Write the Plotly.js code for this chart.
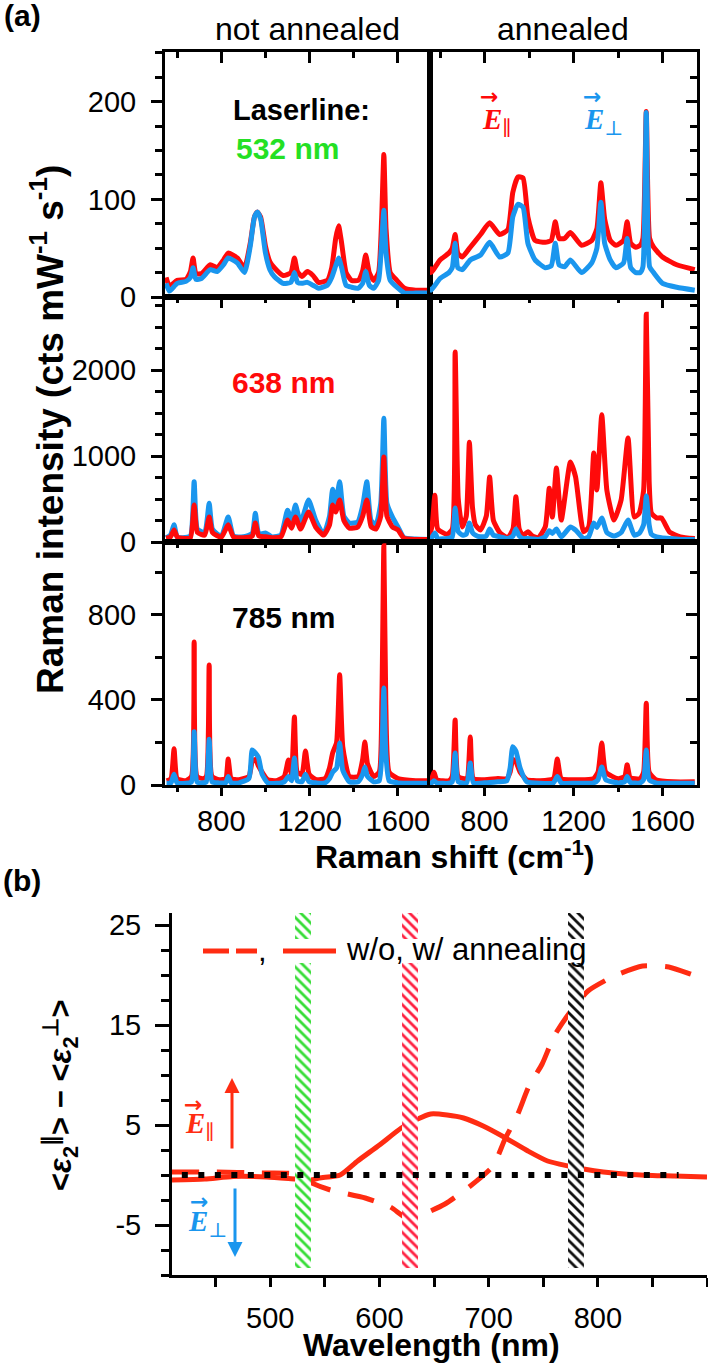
<!DOCTYPE html>
<html><head><meta charset="utf-8">
<script src="https://cdn.plot.ly/plotly-3.0.1.min.js"></script>
<style>html,body{margin:0;padding:0;background:#fff;}#chart{width:708px;height:1366px;}</style>
</head><body><div id="chart"></div>
<script>
// ---------- Panel (a): Raman spectra (Raman shift in cm-1, intensity in cts mW-1 s-1) ----------
// 532 nm, not annealed
const shift_532_na = [550,565,600,640,660,672,685,710,750,781,810,831,872,905,931,950,963,978,1000,1020,1040,1080,1115,1131,1145,1165,1190,1215,1240,1280,1300,1318,1331,1345,1365,1390,1420,1440,1454,1470,1490,1512,1526,1536,1546,1565,1595,1630,1680,1740];
const red_532_na   = [20,11,17,18,26,40,24,24,33,30,38,45,40,30,55,82,87,82,52,36,30,22,25,40,26,21,26,22,15,17,30,60,73,55,25,17,17,27,43,25,17,25,80,146,70,25,17,9,7,7];
const blue_532_na  = [14,6,14,16,20,30,18,19,28,26,33,40,35,25,52,82,87,80,45,28,21,14,15,25,15,14,15,12,9,12,20,32,40,30,12,10,9,14,26,12,9,17,55,89,45,17,10,4,4,4];
// 532 nm, annealed
const shift_532_a = [552,560,600,640,655,668,680,700,736,782,823,868,905,927,950,973,995,1027,1073,1100,1118,1135,1160,1186,1236,1282,1305,1323,1340,1365,1391,1425,1441,1457,1480,1500,1512,1527,1542,1560,1600,1664,1745];
const red_532_a   = [31,25,38,45,50,64,45,41,51,64,76,64,69,107,123,122,82,58,56,58,77,60,60,66,53,58,70,117,80,58,53,58,77,55,51,53,60,190,60,51,41,33,28];
const blue_532_a  = [10,7,19,25,30,55,30,28,38,43,56,41,45,82,95,92,55,38,30,32,55,33,31,38,25,35,50,97,55,38,30,35,60,30,25,25,31,189,31,25,14,10,7];
// 638 nm, not annealed
const shift_638_na = [550,570,586,600,625,660,677,692,725,745,760,800,831,855,900,940,954,970,1000,1030,1070,1100,1118,1136,1159,1195,1227,1263,1290,1304,1318,1336,1355,1380,1418,1440,1459,1478,1500,1522,1536,1550,1575,1600,1627,1680,1745];
const red_638_na   = [45,60,140,60,45,50,430,110,80,290,110,55,200,60,50,70,220,70,60,50,60,255,160,290,150,350,175,80,200,430,350,490,250,160,175,300,490,180,150,300,990,300,175,140,45,30,30];
const blue_638_na  = [50,80,200,60,50,70,700,150,110,450,150,65,290,70,60,100,335,90,105,60,80,370,255,430,220,490,255,90,300,615,450,700,300,220,235,420,700,250,200,450,1440,450,290,175,50,35,30];
// 638 nm, annealed
const shift_638_a = [552,565,577,590,632,655,668,682,700,718,732,746,759,782,808,823,840,870,905,928,941,956,973,995,1015,1041,1073,1091,1105,1123,1145,1186,1209,1245,1268,1291,1305,1327,1350,1382,1414,1445,1473,1495,1515,1527,1540,1550,1573,1595,1632,1680,1745];
const red_638_a   = [58,200,545,150,90,150,2210,500,175,300,1160,400,200,140,300,755,250,105,50,150,525,150,75,120,70,50,175,625,290,860,255,930,760,120,175,1035,605,1480,600,255,490,1210,290,335,600,2650,700,335,280,280,115,60,40];
const blue_638_a  = [30,60,105,40,40,60,395,120,80,90,220,110,80,60,70,150,80,60,40,70,150,70,40,40,35,30,60,130,100,150,60,175,140,40,60,220,170,280,110,70,110,255,80,100,200,535,200,90,60,50,40,30,30];
// 785 nm, not annealed
const shift_785_na = [552,572,586,600,640,665,677,690,715,732,745,758,790,820,831,845,880,925,940,955,968,985,1010,1050,1085,1104,1118,1131,1144,1165,1181,1198,1230,1270,1290,1304,1322,1336,1350,1380,1420,1440,1450,1462,1490,1515,1527,1536,1545,1560,1600,1680,1745];
const red_785_na   = [20,30,170,30,20,40,673,40,30,40,565,40,25,30,122,30,25,40,110,120,90,60,25,20,40,118,50,320,60,50,160,50,25,30,80,150,200,518,180,40,40,120,202,100,40,60,400,1125,380,60,30,20,20];
const blue_785_na  = [8,10,50,10,8,15,250,15,10,15,215,15,10,10,40,10,10,30,165,150,130,50,10,8,15,40,20,127,20,15,50,15,10,10,30,60,80,198,70,15,15,50,85,40,15,20,150,456,150,20,10,8,8];
// 785 nm, annealed
const shift_785_a = [552,563,573,585,640,655,668,682,720,736,750,800,860,900,915,927,941,960,990,1050,1110,1127,1145,1200,1290,1310,1327,1345,1400,1430,1441,1455,1500,1515,1527,1540,1570,1650,1745];
const red_785_a   = [20,30,60,25,20,40,306,40,30,226,30,25,30,30,60,120,110,60,25,20,30,122,30,25,30,60,198,60,30,40,95,35,30,60,385,60,25,15,15];
const blue_785_a  = [8,10,20,10,8,15,150,15,10,103,10,10,15,20,80,180,160,80,15,8,10,40,10,8,10,25,85,25,10,15,40,12,10,25,165,25,10,8,8];

// ---------- Panel (b): <eps2 par> - <eps2 perp> vs wavelength (nm) ----------
const wl_without  = [410,450,490,523,538,555,587,610,625,636,660,682,704,715,726,737,749,760,772,780,791,815,841,865,890,900];
const eps_without = [0.3,0.3,0.2,0.1,-0.8,-1.5,-2.3,-3.2,-4.3,-4.1,-2.9,-1.2,0.9,3.6,5.9,8.9,11.1,13.9,15.9,17.0,18.4,19.9,20.9,20.8,19.9,19.6];
const wl_with  = [410,440,466,497,523,537,545,564,580,600,620,635,647,662,677,695,714,736,754,773,787,805,824,850,870,900];
const eps_with = [-0.5,-0.4,-0.15,-0.2,-0.4,-0.5,-0.3,0,1.4,3.0,4.7,5.6,6.1,6.0,5.7,4.9,3.8,2.4,1.4,0.9,0.6,0.3,0.1,-0.05,-0.1,-0.2];
const wl_zero  = [419,874];
const eps_zero = [0,0];
const laserBands = [530,628,780];
const bandColors = ['#35dd35','#ff2040','#111111'];
const epsTickVals = [-5,5,15,25];
const epsTickText = ['-5','5','15','25'];

// ---------- Layout helpers ----------
const W = 708, H = 1366;
const PX = p => p / W, PY = p => 1 - p / H;
const FONT = 'Liberation Sans, Arial, Helvetica, sans-serif';
const SERIF = 'Liberation Serif, Times New Roman, DejaVu Serif, serif';
const RED = '#ff0a0a', BLUE = '#1a96ee', RED_B = '#ff2c12';
const tickFont = {family: FONT, size: 29, color: '#000'};

const colL = [PX(165), PX(430)], colR = [PX(430), PX(697)];
const rows = [[PY(297), PY(52)], [PY(542), PY(297)], [PY(785), PY(542)]];
const xRangeL = [545, 1745], xRangeR = [555, 1755];
const yRanges = [[0, 251], [0, 2850], [0, 1143]];
const yDt = [[100, 25], [1000, 250], [400, 200]];

function spec(x, y, color, xa, ya) {
  return {type: 'scatter', mode: 'lines', x: x, y: y, xaxis: xa, yaxis: ya,
    line: {color: color, width: 5, shape: 'spline', smoothing: 0.5},
    showlegend: false, hoverinfo: 'skip'};
}
function xAx(domain, anchor, range) {
  return {domain: domain, anchor: anchor, range: range, side: 'top', ticks: 'inside',
    ticklen: 11, tickwidth: 3, tickcolor: '#000', dtick: 400, tick0: 0,
    minor: {dtick: 200, tick0: 0, ticks: 'inside', ticklen: 6, tickwidth: 3, tickcolor: '#000', showgrid: false},
    showticklabels: false, showline: true, linewidth: 3, linecolor: '#000', mirror: true,
    showgrid: false, zeroline: false, fixedrange: true};
}
function xBot(over, anchor, range) {
  return {overlaying: over, anchor: anchor, range: range, side: 'bottom', ticks: 'outside',
    ticklen: 10, tickwidth: 3, tickcolor: '#000', dtick: 400, tick0: 0,
    minor: {dtick: 200, tick0: 0, ticks: 'outside', ticklen: 6, tickwidth: 3, tickcolor: '#000', showgrid: false},
    showticklabels: true, tickfont: tickFont, ticklabelstandoff: 0,
    showline: false, showgrid: false, zeroline: false, fixedrange: true};
}
function yAx(anchor, r, left) {
  return {domain: rows[r], anchor: anchor, range: yRanges[r], side: left ? 'left' : 'right',
    ticks: left ? 'outside' : 'inside', ticklen: 11, tickwidth: 3, tickcolor: '#000',
    dtick: yDt[r][0], tick0: 0,
    minor: {dtick: yDt[r][1], tick0: 0, ticks: left ? 'outside' : 'inside', ticklen: 7, tickwidth: 3, tickcolor: '#000', showgrid: false},
    showticklabels: left, tickfont: tickFont, ticklabelstandoff: 9,
    showline: true, linewidth: 3, linecolor: '#000', mirror: true,
    showgrid: false, zeroline: false, fixedrange: true};
}

const traces = [
  spec(shift_532_na, red_532_na, RED, 'x', 'y'),
  spec(shift_532_na, blue_532_na, BLUE, 'x', 'y'),
  spec(shift_532_a, red_532_a, RED, 'x2', 'y2'),
  spec(shift_532_a, blue_532_a, BLUE, 'x2', 'y2'),
  spec(shift_638_na, blue_638_na, BLUE, 'x3', 'y3'),
  spec(shift_638_na, red_638_na, RED, 'x3', 'y3'),
  spec(shift_638_a, red_638_a, RED, 'x4', 'y4'),
  spec(shift_638_a, blue_638_a, BLUE, 'x4', 'y4'),
  spec(shift_785_na, red_785_na, RED, 'x5', 'y5'),
  spec(shift_785_na, blue_785_na, BLUE, 'x5', 'y5'),
  spec(shift_785_a, red_785_a, RED, 'x6', 'y6'),
  spec(shift_785_a, blue_785_a, BLUE, 'x6', 'y6'),
  {type: 'scatter', x: [], y: [], xaxis: 'x8', yaxis: 'y5', showlegend: false},
  {type: 'scatter', x: [], y: [], xaxis: 'x9', yaxis: 'y6', showlegend: false}
];

// panel (b) curves
const bRange = [-10, 26.2];
traces.push({type: 'scatter', mode: 'lines', x: wl_without, y: eps_without, xaxis: 'x7', yaxis: 'y7',
  line: {color: RED_B, width: 5, dash: '27px,18px', shape: 'spline', smoothing: 0.6}, showlegend: false, hoverinfo: 'skip'});
traces.push({type: 'scatter', mode: 'lines', x: wl_with, y: eps_with, xaxis: 'x7', yaxis: 'y7',
  line: {color: RED_B, width: 5, shape: 'spline', smoothing: 0.6}, showlegend: false, hoverinfo: 'skip'});
// hatched laser bands
const halfW = 7.3;
laserBands.forEach((c, i) => {
  traces.push({type: 'scatter', mode: 'lines', xaxis: 'x7', yaxis: 'y7',
    x: [c - halfW, c + halfW, c + halfW, c - halfW, c - halfW],
    y: [bRange[0] + 0.7, bRange[0] + 0.7, bRange[1], bRange[1], bRange[0] + 0.7],
    fill: 'toself', fillcolor: 'white', line: {width: 0, color: 'rgba(0,0,0,0)'},
    fillpattern: {shape: '\\', fgcolor: bandColors[i], bgcolor: 'white', size: 7, solidity: 0.4},
    showlegend: false, hoverinfo: 'skip'});
});
traces.push({type: 'scatter', mode: 'lines', x: wl_zero, y: eps_zero, xaxis: 'x7', yaxis: 'y7',
  line: {color: '#000', width: 6, dash: '6px,10.5px'}, showlegend: false, hoverinfo: 'skip'});

function ann(text, px, py, size, color, opts) {
  return Object.assign({xref: 'paper', yref: 'paper', x: PX(px), y: PY(py), text: text,
    showarrow: false, xanchor: 'center', yanchor: 'middle',
    font: {family: FONT, size: size, color: color || '#000'}}, opts || {});
}
const bold = (s, px, py, size, color, opts) => {
  const a = ann(s, px, py, size, color, opts); a.font.weight = 'bold'; return a;
};
const eLabel = (sub, px, py, color) => ann('<b><i>E</i></b><sub>' + sub + '</sub>', px, py, 29, color,
  {font: {family: SERIF, size: 29, color: color}});
const eArrow = (px, py, color) => ann('→', px, py, 22, color, {font: {family: 'DejaVu Sans, sans-serif', size: 22, color: color, weight: 'bold'}});

const annotations = [
  bold('(a)', 22, 15, 30),
  bold('(b)', 22, 880, 30),
  ann('not annealed', 307, 29, 32),
  ann('annealed', 563, 29, 32),
  bold('Laserline:', 231, 110, 29, '#000', {xanchor: 'left'}),
  bold('532 nm', 287, 148, 30, '#24e024'),
  bold('638 nm', 283, 382, 30, '#ff0a0a'),
  bold('785 nm', 283, 617, 30, '#000'),
  eLabel('∥', 497, 121, RED), eArrow(489, 97, RED),
  eLabel('⊥', 603, 121, BLUE), eArrow(592, 97, BLUE),
  bold('Raman intensity (cts mW<sup>-1</sup> s<sup>-1</sup>)', 47, 430, 37, '#000', {textangle: -90}),
  bold('Raman shift (cm<sup>-1</sup>)', 455, 855, 32),
  bold('&lt;<i>ε</i><sub>2</sub><sup>∥</sup>&gt; − &lt;<i>ε</i><sub>2</sub><sup>⊥</sup>&gt;', 60, 1095, 31, '#000', {textangle: -90}),
  bold('Wavelength (nm)', 431, 1345, 32),
  eLabel('∥', 200, 1125, RED_B), eArrow(193, 1104, RED_B),
  eLabel('⊥', 207, 1223, BLUE), eArrow(199, 1201, BLUE),
  ann('', 232, 1078, 10, RED_B, {showarrow: true, ax: 0, ay: 72, arrowhead: 2, arrowsize: 1, arrowwidth: 3, arrowcolor: RED_B}),
  ann('', 235, 1257, 10, BLUE, {showarrow: true, ax: 0, ay: -70, arrowhead: 2, arrowsize: 1, arrowwidth: 3, arrowcolor: BLUE}),
  ann(',', 262, 951, 31),
  ann('w/o, w/ annealing', 344, 949, 31, '#000', {xanchor: 'left'})
];

const shapes = [
  {type: 'rect', xref: 'paper', yref: 'paper', x0: PX(198), x1: PX(606), y0: PY(963), y1: PY(939),
   fillcolor: 'white', line: {width: 0}, layer: 'above'},
  {type: 'line', xref: 'paper', yref: 'paper', x0: PX(203), x1: PX(229), y0: PY(951), y1: PY(951), line: {color: RED_B, width: 5}, layer: 'above'},
  {type: 'line', xref: 'paper', yref: 'paper', x0: PX(236), x1: PX(257), y0: PY(951), y1: PY(951), line: {color: RED_B, width: 5}, layer: 'above'},
  {type: 'line', xref: 'paper', yref: 'paper', x0: PX(283), x1: PX(336), y0: PY(951), y1: PY(951), line: {color: RED_B, width: 5}, layer: 'above'}
];

const layout = {
  width: W, height: H, margin: {l: 0, r: 0, t: 0, b: 0},
  paper_bgcolor: '#fff', plot_bgcolor: '#fff', showlegend: false,
  font: {family: FONT, color: '#000'},
  xaxis: xAx(colL, 'y', xRangeL), xaxis2: xAx(colR, 'y2', xRangeR),
  xaxis3: xAx(colL, 'y3', xRangeL), xaxis4: xAx(colR, 'y4', xRangeR),
  xaxis5: xAx(colL, 'y5', xRangeL), xaxis6: xAx(colR, 'y6', xRangeR),
  xaxis8: xBot('x5', 'y5', xRangeL), xaxis9: xBot('x6', 'y6', xRangeR),
  yaxis: yAx('x', 0, true), yaxis2: yAx('x2', 0, false),
  yaxis3: yAx('x3', 1, true), yaxis4: yAx('x4', 1, false),
  yaxis5: yAx('x5', 2, true), yaxis6: yAx('x6', 2, false),
  xaxis7: {domain: [PX(172), PX(707)], anchor: 'y7', range: [410, 900], side: 'bottom',
    ticks: 'outside', ticklen: 9, tickwidth: 3, tickcolor: '#000', dtick: 100, tick0: 0,
    minor: {dtick: 50, tick0: 0, ticks: 'outside', ticklen: 9, tickwidth: 3, tickcolor: '#000', showgrid: false},
    tickfont: tickFont, ticklabelstandoff: 6, showline: true, linewidth: 3, linecolor: '#000',
    showgrid: false, zeroline: false, fixedrange: true},
  yaxis7: {domain: [PY(1275), PY(913)], anchor: 'x7', range: bRange, side: 'left',
    ticks: 'outside', ticklen: 14, tickwidth: 3, tickcolor: '#000',
    tickmode: 'array', tickvals: epsTickVals, ticktext: epsTickText,
    minor: {dtick: 2.5, tick0: 0, ticks: 'outside', ticklen: 8, tickwidth: 3, tickcolor: '#000', showgrid: false},
    tickfont: tickFont, ticklabelstandoff: 8, showline: true, linewidth: 3, linecolor: '#000',
    showgrid: false, zeroline: false, fixedrange: true},
  annotations: annotations, shapes: shapes
};

Plotly.newPlot('chart', traces, layout, {displayModeBar: false, staticPlot: true});
</script></body></html>
